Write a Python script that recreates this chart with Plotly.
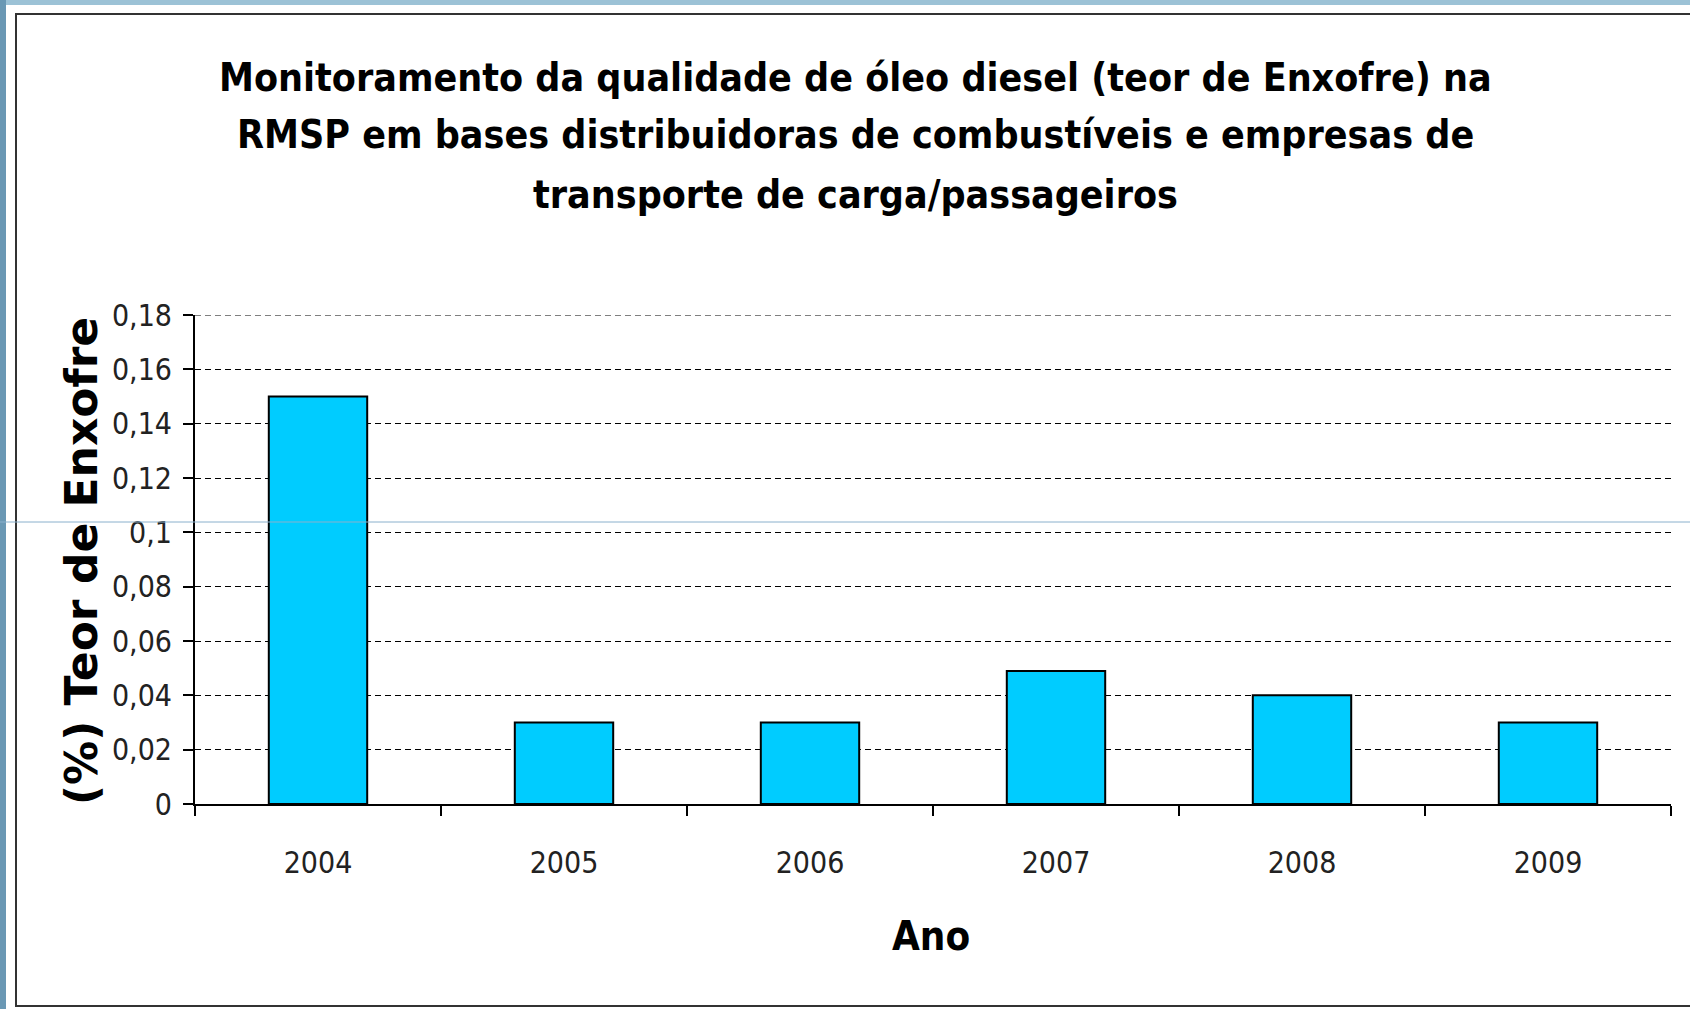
import plotly.graph_objects as go

years = ["2004", "2005", "2006", "2007", "2008", "2009"]
sulfur = [0.150, 0.030, 0.030, 0.049, 0.040, 0.030]
y_tick_vals = [0, 0.02, 0.04, 0.06, 0.08, 0.10, 0.12, 0.14, 0.16, 0.18]
y_tick_text = ["0", "0,02", "0,04", "0,06", "0,08", "0,1", "0,12", "0,14", "0,16", "0,18"]
y_max = 0.18
title_lines = [
    "Monitoramento da qualidade de óleo diesel (teor de Enxofre) na",
    "RMSP em bases distribuidoras de combustíveis e empresas de",
    "transporte de carga/passageiros",
]
y_title = "(%) Teor de Enxofre"
x_title = "Ano"

W, H = 1690, 1009
L, R, T, B = 195, 1690 - 1671, 315, 1009 - 804
PW, PH = W - L - R, H - T - B

def px(x):
    return (x - L) / PW

def py(y):
    return (H - B - y) / PH

FONT = "DejaVu Sans, sans-serif"
COND = "DejaVu Sans Condensed, DejaVu Sans, sans-serif"

fig = go.Figure(go.Bar(
    x=years, y=sulfur,
    marker=dict(color="#00CCFF", line=dict(color="black", width=2)),
    width=0.4,
))

shapes = [
    # slide background strips
    dict(type="rect", xref="paper", yref="paper", x0=px(0), x1=px(W), y0=py(0), y1=py(5),
         fillcolor="#9cc2d6", line=dict(width=0), layer="below"),
    dict(type="rect", xref="paper", yref="paper", x0=px(0), x1=px(6), y0=py(0), y1=py(H),
         fillcolor="#6a98b4", line=dict(width=0), layer="below"),
    # chart panel border
    dict(type="rect", xref="paper", yref="paper", x0=px(16), x1=px(W + 20), y0=py(1006), y1=py(14),
         fillcolor="white", line=dict(color="#333333", width=2), layer="below"),
    # top gridline (hidden by plotly at the range edge)
    dict(type="line", xref="paper", yref="y", x0=0, x1=1, y0=y_max, y1=y_max,
         line=dict(color="black", width=1, dash="6px,4px"), layer="below"),
    # thin horizontal slide line
    dict(type="line", xref="paper", yref="paper", x0=px(0), x1=px(W), y0=py(522), y1=py(522),
         line=dict(color="#8ab0cc", width=1), layer="above"),
]

annotations = []
for yy, line in zip([78, 135, 194], title_lines):
    annotations.append(dict(
        text=f"<b>{line}</b>", xref="paper", yref="paper", x=px(855), y=py(yy),
        xanchor="center", yanchor="middle", showarrow=False,
        font=dict(family=COND, size=39, color="black"),
    ))
annotations.append(dict(
    text=f"<b>{y_title}</b>", xref="paper", yref="paper", x=px(81), y=py(561),
    xanchor="center", yanchor="middle", showarrow=False, textangle=-90,
    font=dict(family=FONT, size=44, color="black"),
))
annotations.append(dict(
    text=f"<b>{x_title}</b>", xref="paper", yref="paper", x=px(931), y=py(936),
    xanchor="center", yanchor="middle", showarrow=False,
    font=dict(family=COND, size=40, color="black"),
))

fig.update_layout(
    width=W, height=H,
    margin=dict(l=L, r=R, t=T, b=B),
    paper_bgcolor="white", plot_bgcolor="white",
    showlegend=False,
    shapes=shapes, annotations=annotations,
    bargap=0.6,
)
fig.update_xaxes(
    type="category", tickson="boundaries", ticks="outside", ticklen=10, tickwidth=2,
    tickcolor="black", showline=True, linecolor="black", linewidth=2,
    showgrid=False, ticklabelstandoff=31,
    tickfont=dict(family=COND, size=30, color="#222222"),
)
fig.update_yaxes(
    range=[0, y_max], tickvals=y_tick_vals, ticktext=y_tick_text,
    ticks="outside", ticklen=10, tickwidth=2, tickcolor="black",
    showline=True, linecolor="black", linewidth=2,
    showgrid=True, gridcolor="black", gridwidth=1, griddash="6px,4px",
    zeroline=False, ticklabelstandoff=5,
    tickfont=dict(family=COND, size=30, color="#222222"),
)

fig.write_html(
    "out.html",
    config={"displayModeBar": False},
    post_script="document.body.style.margin='0';document.body.style.overflow='hidden';",
)
